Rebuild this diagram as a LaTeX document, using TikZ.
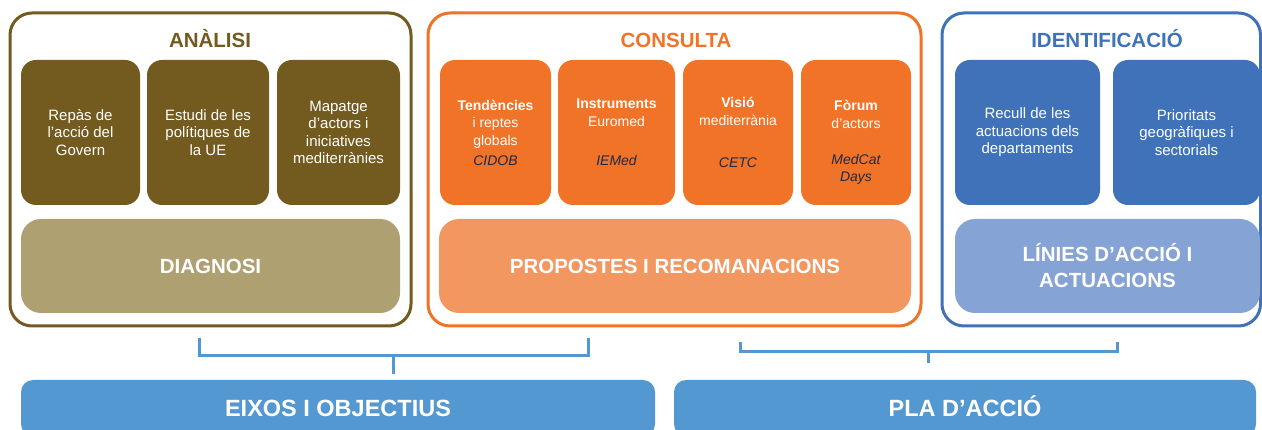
\documentclass[tikz,border=0pt]{standalone}
\usepackage{fontspec}
\setmainfont{Liberation Sans}
\definecolor{brn}{HTML}{735A1F}
\definecolor{brnlt}{HTML}{AFA072}
\definecolor{org}{HTML}{F07327}
\definecolor{orglt}{HTML}{F39761}
\definecolor{blu}{HTML}{3F72B8}
\definecolor{blult}{HTML}{85A3D4}
\definecolor{sky}{HTML}{5398D1}
\definecolor{navy}{HTML}{1F2A48}
\begin{document}
\begin{tikzpicture}[x=1pt,y=-1pt,
  frame/.style={draw, line width=3pt, rounded corners=22pt, fill=white, inner sep=0pt},
  title/.style={font=\bfseries\fontsize{20.5}{24}\selectfont, inner sep=0pt, text height=15pt, text depth=0pt},
  sub/.style={rounded corners=15pt, text=white, align=center, inner sep=0pt, minimum height=145pt,
    font=\fontsize{15}{17.5}\selectfont},
  csub/.style={sub, font=\fontsize{14}{17.5}\selectfont},
  big/.style={rounded corners=20pt, text=white, align=center, inner sep=0pt, minimum height=94pt,
    font=\bfseries\fontsize{20.5}{26}\selectfont},
  bottom/.style={rounded corners=12pt, fill=sky, text=white, inner sep=0pt, minimum height=56pt,
    text height=17pt, text depth=0pt, font=\bfseries\fontsize{23.5}{28}\selectfont},
  bracket/.style={draw=sky, line width=3pt}
]
\clip (0,0) rectangle (1262,430);
\fill[white] (0,0) rectangle (1262,430);

% frames
\node[frame, draw=brn, minimum width=401pt, minimum height=313pt] (f1) at (210.5,169.5) {};
\node[frame, draw=org, minimum width=493pt, minimum height=313pt] (f2) at (674.5,169.5) {};
\node[frame, draw=blu, minimum width=318.5pt, minimum height=313pt] (f3) at (1101.25,169.5) {};

% titles
\node[title, text=brn] (t1) at (210,40) {ANÀLISI};
\node[title, text=org] (t2) at (676,40) {CONSULTA};
\node[title, text=blu] (t3) at (1107,40) {IDENTIFICACIÓ};

% ANALISI
\node[sub, fill=brn, minimum width=119pt] (a1) at (80.5,132.5) {Repàs de\\l’acció del\\Govern};
\node[sub, fill=brn, minimum width=122pt] (a2) at (208,132.5) {Estudi de les\\polítiques de\\la UE};
\node[sub, fill=brn, minimum width=123pt] (a3) at (338.5,132.5) {Mapatge\\d’actors i\\iniciatives\\mediterrànies};
\node[big, fill=brnlt, minimum width=379pt] (diag) at (210.5,266) {DIAGNOSI};

% CONSULTA
\node[csub, fill=org, minimum width=111pt] (c1) at (495.5,132.5)
  {\textbf{Tendències}\\i reptes\\globals\\[2.5pt]{\itshape\color{navy}CIDOB}};
\node[csub, fill=org, minimum width=117pt] (c2) at (616.5,132.5)
  {\textbf{Instruments}\\Euromed\\[21.5pt]{\itshape\color{navy}IEMed}};
\node[csub, fill=org, minimum width=110pt] (c3) at (738,132.5)
  {\textbf{Visió}\\mediterrània\\[24.5pt]{\itshape\color{navy}CETC}};
\node[csub, fill=org, minimum width=110pt] (c4) at (856,132.5) {};
\node[align=center, text=white, inner sep=0pt, font=\fontsize{14}{17.5}\selectfont] (c4t)
  at ([yshift=-10pt]c4.center)
  {\textbf{Fòrum}\\d’actors\\[18.5pt]{\itshape\color{navy}MedCat}\\{\itshape\color{navy}Days}};
\node[big, fill=orglt, minimum width=472pt] (prop) at (675,266) {PROPOSTES I RECOMANACIONS};

% IDENTIFICACIO
\node[sub, fill=blu, minimum width=145pt] (i1) at (1027.5,132.5) {Recull de les\\actuacions dels\\departaments};
\node[sub, fill=blu, minimum width=147pt] (i2) at (1186.5,132.5) {Prioritats\\geogràfiques i\\sectorials};
\node[big, fill=blult, minimum width=305pt] (lin) at (1107.5,266) {LÍNIES D’ACCIÓ I\\ACTUACIONS};

% bottom boxes
\node[bottom, minimum width=634pt] (eix) at (338,408) {EIXOS I OBJECTIUS};
\node[bottom, minimum width=582pt] (pla) at (965,408) {PLA D’ACCIÓ};

% brackets
\coordinate (bl1) at (199,338);
\coordinate (bl2) at (588,338);
\coordinate (blm) at (393,356);
\coordinate (bls) at (393,374);
\draw[bracket] (bl1) |- (blm) -| (bl2);
\draw[bracket] (blm) -- (bls);
\coordinate (br1) at (740,342);
\coordinate (br2) at (1117,342);
\coordinate (brm) at (928,352);
\coordinate (brs) at (928,363);
\draw[bracket] (br1) |- (brm) -| (br2);
\draw[bracket] (brm) -- (brs);
\end{tikzpicture}
\end{document}
